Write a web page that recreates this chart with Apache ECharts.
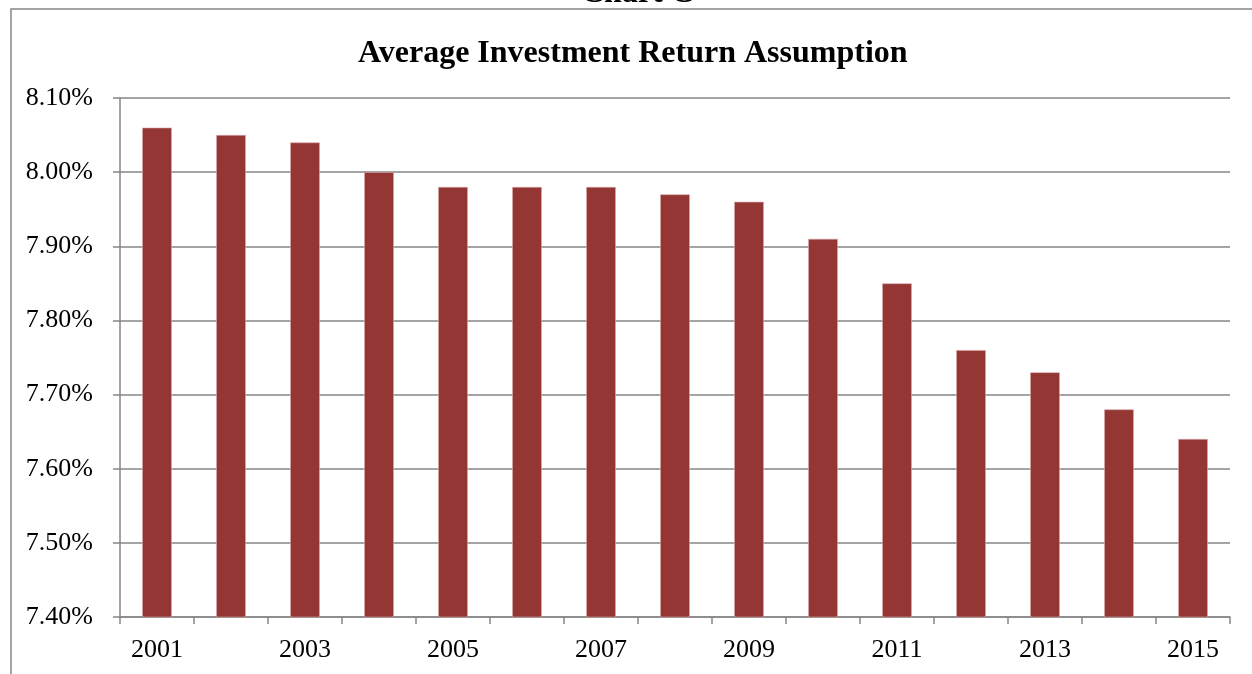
<!DOCTYPE html>
<html>
<head>
<meta charset="utf-8">
<script src="https://cdn.jsdelivr.net/npm/echarts@6/dist/echarts.min.js"></script>
<style>
  html, body { margin: 0; padding: 0; background: #fff; }
  #chart { width: 1252px; height: 674px; }
</style>
</head>
<body>
<div id="chart"></div>
<script>
const years = ['2001', '2002', '2003', '2004', '2005', '2006', '2007', '2008',
  '2009', '2010', '2011', '2012', '2013', '2014', '2015']
const returnAssumption = [8.06, 8.05, 8.04, 8.00, 7.98, 7.98, 7.98, 7.97,
  7.96, 7.91, 7.85, 7.76, 7.73, 7.68, 7.64]
const yMin = 7.4
const yMax = 8.1
const yStep = 0.1

const serif = '"Liberation Serif", "Times New Roman", serif'
const chart = echarts.init(document.getElementById('chart'))

chart.setOption({
  animation: false,
  title: {
    text: 'Average Investment Return Assumption',
    left: 353,
    top: 33,
    textStyle: {
      fontFamily: serif,
      fontSize: 32,
      fontWeight: 'bold',
      color: '#000'
    }
  },
  graphic: [
    {
      type: 'rect',
      shape: { x: 11, y: 9, width: 1300, height: 700 },
      style: { fill: 'none', stroke: '#868686', lineWidth: 1.5 },
      silent: true
    },
    {
      type: 'text',
      left: 581,
      top: -22,
      z: 10,
      style: {
        text: 'Chart C',
        fontFamily: serif,
        fontSize: 32,
        fontWeight: 'bold',
        fill: '#000'
      }
    }
  ],
  grid: {
    left: 120,
    right: 22,
    top: 98,
    bottom: 57
  },
  xAxis: {
    type: 'category',
    data: years,
    axisLine: { lineStyle: { color: '#868686', width: 1.5 } },
    axisTick: { show: true, interval: 0, length: 7, lineStyle: { color: '#868686', width: 1.5 } },
    axisLabel: {
      interval: 1,
      margin: 20,
      fontFamily: serif,
      fontSize: 26,
      color: '#000'
    }
  },
  yAxis: {
    type: 'value',
    min: yMin,
    max: yMax,
    interval: yStep,
    axisLine: { show: true, lineStyle: { color: '#868686', width: 1.5 } },
    axisTick: { show: true, length: 7, lineStyle: { color: '#868686', width: 1.5 } },
    splitLine: { lineStyle: { color: '#868686', width: 1.5 } },
    axisLabel: {
      margin: 27,
      fontFamily: serif,
      fontSize: 26,
      color: '#000',
      formatter: (v) => v.toFixed(2) + '%'
    }
  },
  series: [
    {
      type: 'bar',
      data: returnAssumption,
      barWidth: '40%',
      itemStyle: {
        color: '#943634',
        borderColor: '#d9a9a8',
        borderWidth: 0.6
      }
    }
  ]
})
</script>
</body>
</html>
